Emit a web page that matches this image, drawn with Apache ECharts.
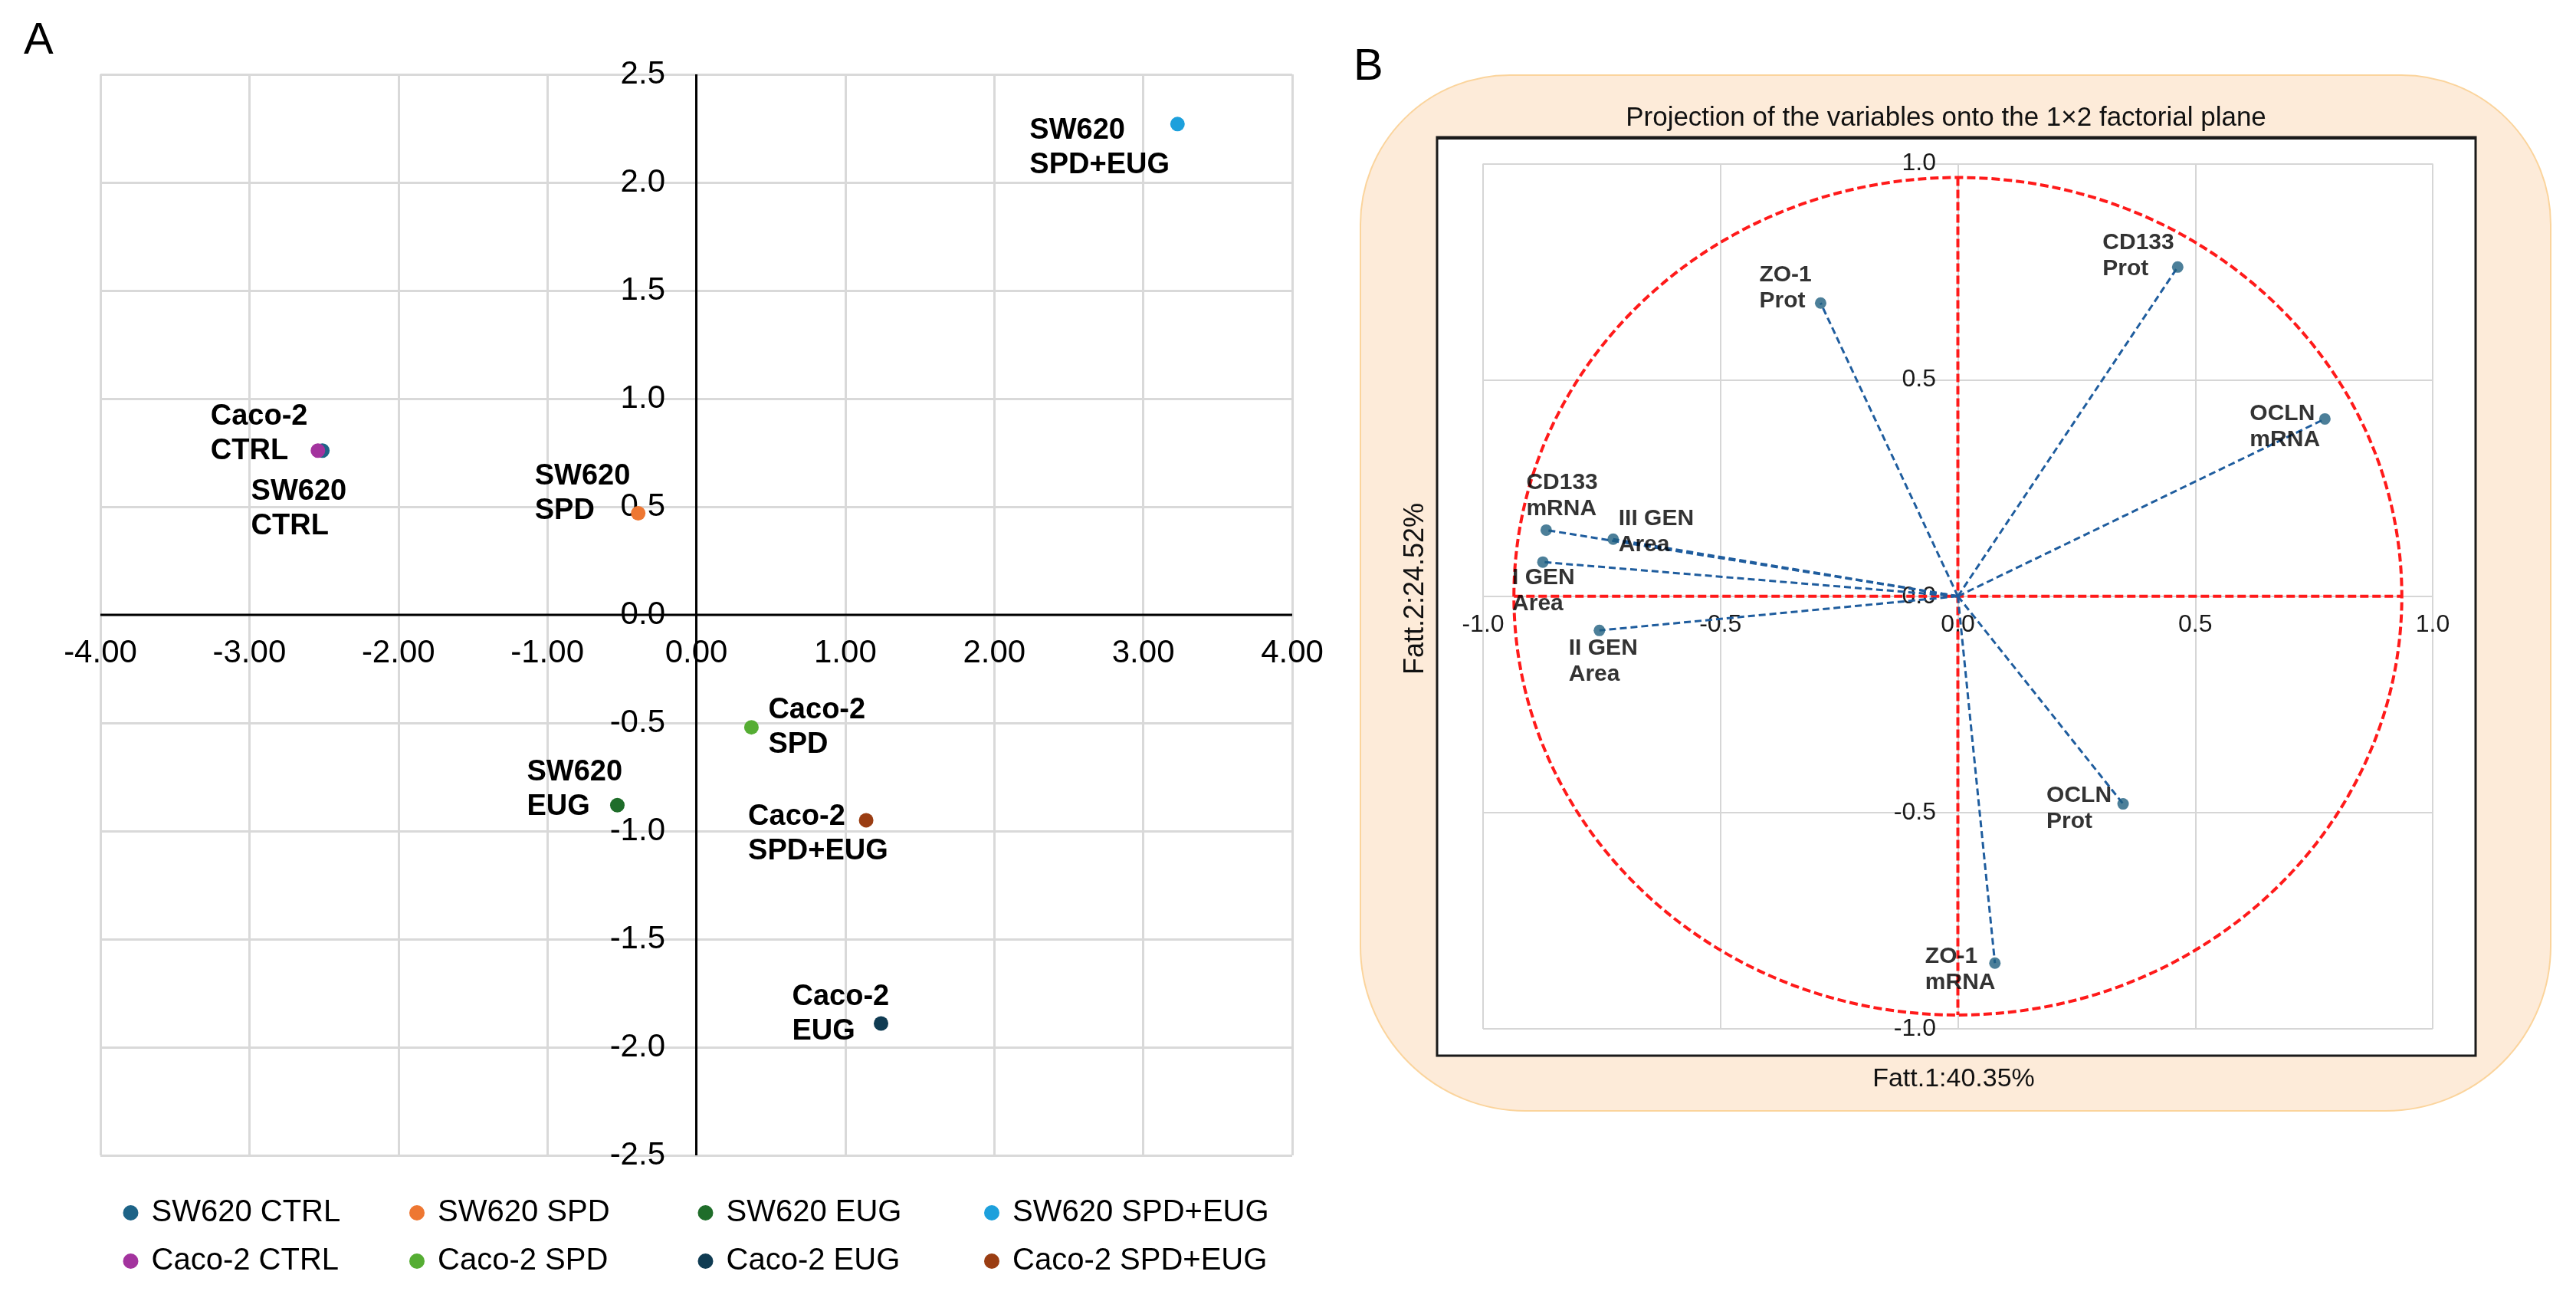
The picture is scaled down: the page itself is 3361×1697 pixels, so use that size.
<!DOCTYPE html>
<html>
<head>
<meta charset="utf-8">
<script src="https://cdn.jsdelivr.net/npm/echarts@6/dist/echarts.min.js"></script>
<style>
html,body{margin:0;padding:0;background:#ffffff;}
#c{width:3361px;height:1697px;}
</style>
</head>
<body>
<div id="c"></div>
<script>
const FONT = '"Liberation Sans", Arial, Helvetica, sans-serif';

// ---------- Panel A : sample scores ----------
const groupNames = ['SW620 CTRL','SW620 SPD','SW620 EUG','SW620 SPD+EUG','Caco-2 CTRL','Caco-2 SPD','Caco-2 EUG','Caco-2 SPD+EUG'];
const groupF1 = [-2.51, -0.39, -0.53, 3.23, -2.54, 0.37, 1.24, 1.14];
const groupF2 = [0.76, 0.47, -0.88, 2.27, 0.76, -0.52, -1.89, -0.95];
const groupColors = ['#1d6387','#ee7732','#1f6d2a','#1da0dc','#a3339e','#55ad33','#0f3b52','#9a3d12'];
// label placement (style only): offset of label top-left from the point, px
const groupLabelOffsets = [[-93,31],[-135,-70],[-118,-65],[-193,-14],[-140,-67],[22,-45],[-116,-57],[-154,-27]];
const axisRangeA = {xMin: -4, xMax: 4, xStep: 1, yMin: -2.5, yMax: 2.5, yStep: 0.5};

// ---------- Panel B : variable loadings ----------
const varNames = ['ZO-1 Prot','CD133 Prot','OCLN mRNA','CD133 mRNA','III GEN Area','I GEN Area','II GEN Area','OCLN Prot','ZO-1 mRNA'];
const varF1 = [-0.289, 0.463, 0.773, -0.867, -0.726, -0.874, -0.755, 0.348, 0.078];
const varF2 = [0.678, 0.761, 0.410, 0.153, 0.132, 0.079, -0.079, -0.480, -0.848];
const varLabelOffsets = [[-80,-53],[-98,-49],[-98,-24],[-26,-79],[7,-44],[-40,4],[-40,6],[-100,-28],[-91,-25]];
const circleRadii = [0.935, 0.968];

const titleB = 'Projection of the variables onto the 1\u00d72 factorial plane';
const xNameB = 'Fatt.1:40.35%';
const yNameB = 'Fatt.2:24.52%';

const twoLines = s => s.replace(/ (?=\S+$)/, '\n');

const chart = echarts.init(document.getElementById('c'), null, {renderer:'canvas'});

const series = [];
// panel A axis lines through the origin
series.push({
  type: 'line', xAxisIndex: 0, yAxisIndex: 0, silent: true, z: 2, symbol: 'none',
  data: [[axisRangeA.xMin, 0], [axisRangeA.xMax, 0]],
  lineStyle: {color: '#000', width: 3}
});
series.push({
  type: 'line', xAxisIndex: 0, yAxisIndex: 0, silent: true, z: 2, symbol: 'none',
  data: [[0, axisRangeA.yMin], [0, axisRangeA.yMax]],
  lineStyle: {color: '#000', width: 3}
});

groupNames.forEach((name, i) => {
  series.push({
    name: name,
    type: 'scatter',
    xAxisIndex: 0, yAxisIndex: 0,
    symbol: 'circle',
    symbolSize: 19,
    z: 5,
    itemStyle: {color: groupColors[i], opacity: 1},
    data: [[groupF1[i], groupF2[i]]],
    label: {
      show: true,
      formatter: twoLines(name),
      position: 'inside',
      align: 'left',
      verticalAlign: 'top',
      offset: groupLabelOffsets[i],
      color: '#000',
      fontFamily: FONT,
      fontWeight: 'bold',
      fontSize: 38,
      lineHeight: 45,
      textBorderWidth: 0
    },
    emphasis: {disabled: true}
  });
});

// correlation circle
series.push({
  type: 'custom', xAxisIndex: 1, yAxisIndex: 1, silent: true, z: 2,
  data: [[0, 0, circleRadii[0], circleRadii[1]]],
  renderItem: (params, api) => {
    const c = api.coord([api.value(0), api.value(1)]);
    const s = api.size([api.value(2), api.value(3)]);
    return {type: 'ellipse', shape: {cx: c[0], cy: c[1], rx: s[0], ry: s[1]},
      style: {fill: 'none', stroke: '#ff1a1a', lineWidth: 4, lineDash: [11, 5]}};
  }
});
// red dashed reference axes
series.push({
  type: 'line', xAxisIndex: 1, yAxisIndex: 1, silent: true, z: 2, symbol: 'none',
  data: [[-circleRadii[0], 0], [circleRadii[0], 0]],
  lineStyle: {color: '#ff1a1a', width: 4, type: [11, 5]}
});
series.push({
  type: 'line', xAxisIndex: 1, yAxisIndex: 1, silent: true, z: 2, symbol: 'none',
  data: [[0, circleRadii[1]], [0, -circleRadii[1]]],
  lineStyle: {color: '#ff1a1a', width: 4, type: [11, 5]}
});
// vectors from origin
series.push({
  type: 'custom', xAxisIndex: 1, yAxisIndex: 1, silent: true, z: 3,
  data: varF1.map((v, i) => [v, varF2[i]]),
  renderItem: (params, api) => {
    const o = api.coord([0, 0]);
    const e = api.coord([api.value(0), api.value(1)]);
    return {type: 'line', shape: {x1: o[0], y1: o[1], x2: e[0], y2: e[1]},
      style: {stroke: '#1f5d9e', lineWidth: 3, lineDash: [9, 5]}};
  }
});
// variable points
series.push({
  type: 'scatter', xAxisIndex: 1, yAxisIndex: 1, z: 4,
  symbol: 'circle', symbolSize: 15,
  itemStyle: {color: '#1f5f7f'},
  data: varF1.map((v, i) => ({
    value: [v, varF2[i]],
    label: {offset: varLabelOffsets[i], formatter: twoLines(varNames[i])}
  })),
  label: {
    show: true, position: 'inside', align: 'left', verticalAlign: 'top',
    color: '#000', fontFamily: FONT, fontWeight: 'bold', fontSize: 30, lineHeight: 34,
    textBorderWidth: 0
  },
  emphasis: {disabled: true}
});

// legends: one per item to reproduce the 4x2 grid layout
const legendCols = [160.5, 534, 910.5, 1284];
const legendRows = [1561, 1624];
const legends = groupNames.map((name, i) => ({
  data: [name],
  left: legendCols[i % 4],
  top: legendRows[Math.floor(i / 4)],
  orient: 'horizontal',
  icon: 'circle',
  itemWidth: 30, itemHeight: 20,
  selectedMode: false,
  padding: 0,
  textStyle: {fontFamily: FONT, fontSize: 40, color: '#000', lineHeight: 42, padding: [0, 0, 0, 7]}
}));

// Label placement: axes sit at the grid edges, labels are moved onto the zero lines
const option = {
  animation: false,
  backgroundColor: '#ffffff',
  textStyle: {fontFamily: FONT},
  grid: [
    {left: 131, top: 97, width: 1555, height: 1410, show: false},
    {left: 1935, top: 213.5, width: 1239, height: 1128.5, show: false}
  ],
  xAxis: [
    {
      type: 'value', gridIndex: 0, min: axisRangeA.xMin, max: axisRangeA.xMax, interval: axisRangeA.xStep,
      axisLine: {show: false, onZero: false},
      axisTick: {show: false},
      axisLabel: {formatter: v => v.toFixed(2), fontSize: 42, color: '#000', margin: -676, fontFamily: FONT},
      splitLine: {show: true, lineStyle: {color: '#d9d9d9', width: 3}}
    },
    {
      type: 'value', gridIndex: 1, min: -1, max: 1, interval: 0.5,
      axisLine: {show: false, onZero: false},
      axisTick: {show: false},
      axisLabel: {formatter: v => v.toFixed(1), fontSize: 32, color: '#1a1a1a', margin: -543, fontFamily: FONT},
      splitLine: {show: true, lineStyle: {color: '#d6d6d6', width: 2}}
    }
  ],
  yAxis: [
    {
      type: 'value', gridIndex: 0, min: axisRangeA.yMin, max: axisRangeA.yMax, interval: axisRangeA.yStep,
      axisLine: {show: false, onZero: false},
      axisTick: {show: false},
      axisLabel: {formatter: v => v.toFixed(1), fontSize: 42, color: '#000', margin: -737, fontFamily: FONT},
      splitLine: {show: true, lineStyle: {color: '#d9d9d9', width: 3}}
    },
    {
      type: 'value', gridIndex: 1, min: -1, max: 1, interval: 0.5,
      axisLine: {show: false, onZero: false},
      axisTick: {show: false},
      axisLabel: {formatter: v => v.toFixed(1), fontSize: 32, color: '#1a1a1a', margin: -591, fontFamily: FONT},
      splitLine: {show: true, lineStyle: {color: '#d6d6d6', width: 2}}
    }
  ],
  legend: legends,
  tooltip: {show: false},
  graphic: [
    {type: 'rect', z: -100, silent: true,
      shape: {x: 1775, y: 98, width: 1553, height: 1351, r: [195, 195, 215, 215]},
      style: {fill: '#fdebd9', stroke: '#fbd49c', lineWidth: 2}},
    {type: 'rect', z: -90, silent: true,
      shape: {x: 1875, y: 179, width: 1355, height: 1198},
      style: {fill: '#ffffff', stroke: '#1a1a1a', lineWidth: 3}},
    {type: 'line', z: -89, silent: true,
      shape: {x1: 1875, y1: 180, x2: 3230, y2: 180},
      style: {stroke: '#1a1a1a', lineWidth: 4}},
    {type: 'text', z: 100, silent: true, x: 31, y: 54,
      style: {text: 'A', fontFamily: FONT, fontSize: 58, fill: '#000', align: 'left', verticalAlign: 'middle'}},
    {type: 'text', z: 100, silent: true, x: 1766, y: 88,
      style: {text: 'B', fontFamily: FONT, fontSize: 58, fill: '#000', align: 'left', verticalAlign: 'middle'}},
    {type: 'text', z: 100, silent: true, x: 2539, y: 154,
      style: {text: titleB, fontFamily: FONT, fontSize: 35, fill: '#111', align: 'center', verticalAlign: 'middle'}},
    {type: 'text', z: 100, silent: true, x: 2549, y: 1408,
      style: {text: xNameB, fontFamily: FONT, fontSize: 34, fill: '#111', align: 'center', verticalAlign: 'middle'}},
    {type: 'text', z: 100, silent: true, x: 1847, y: 768, rotation: Math.PI / 2,
      style: {text: yNameB, fontFamily: FONT, fontSize: 36, fill: '#111', align: 'center', verticalAlign: 'middle'}}
  ],
  series: series
};

chart.setOption(option);
</script>
</body>
</html>
